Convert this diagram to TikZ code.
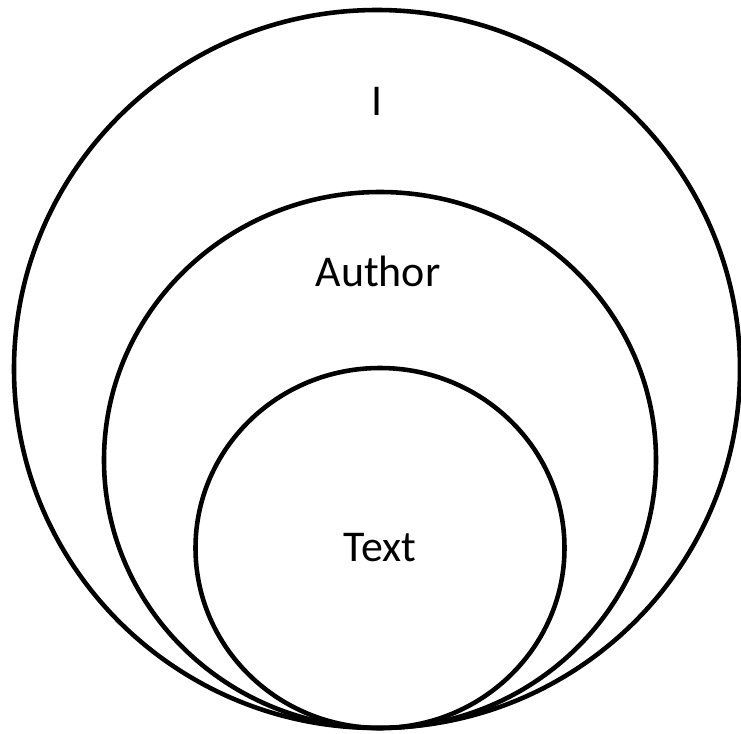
\documentclass[tikz,border=0pt]{standalone}
\usepackage{fontspec}
\setmainfont{Carlito}
\usetikzlibrary{shapes.geometric}
\begin{document}
\begin{tikzpicture}[x=0.02cm, y=-0.02cm]
\tikzset{
  ring/.style={draw, ellipse, line width=2.6pt, inner sep=0pt},
  tag/.style={font=\fontsize{25}{30}\selectfont}
}
\useasboundingbox (0,0) rectangle (741,734);

% Cerchi concentrici tangenti in basso
\node[ring, minimum width=726*0.02cm, minimum height=718*0.02cm] (io) at (377,369) {};
\node[ring, minimum width=552*0.02cm, minimum height=536*0.02cm] (autore) at (380,460) {};
\node[ring, minimum width=369*0.02cm, minimum height=360*0.02cm] (testo) at (380,548) {};

% Etichette
\node[tag] (lio) at (377,101) {I};
\node[tag] (lautore) at (378,271) {Author};
\node[tag] (ltesto) at (380,548) {Text};
\end{tikzpicture}
\end{document}
